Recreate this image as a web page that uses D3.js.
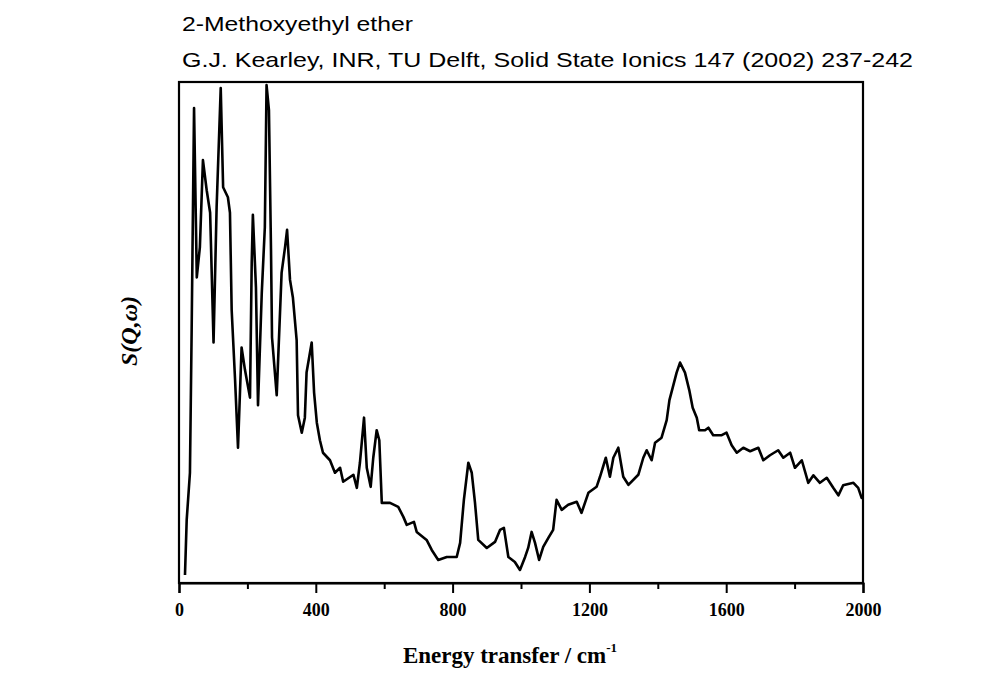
<!DOCTYPE html>
<html>
<head>
<meta charset="utf-8">
<script src="https://cdn.jsdelivr.net/npm/d3@7"></script>
<style>
  body { margin: 0; background: #fff; }
  svg { display: block; }
</style>
</head>
<body>
<svg width="1003" height="700"></svg>
<script>
/* data: energy in cm-1, intensity in arbitrary units (0..100) */

var titleLines = ["2-Methoxyethyl ether",
	"G.J. Kearley, INR, TU Delft, Solid State Ionics 147 (2002) 237-242"];

var energy = [17.5, 22.5, 32, 37, 44, 52, 61, 70, 81, 91, 98.5, 101, 110, 122, 129, 143, 149, 154, 164, 172.5,
	183, 193, 207.6, 212.6, 216, 225, 231, 242, 251, 256, 263, 269, 272, 285.7, 300, 310, 316, 324.6, 333, 344,
	348, 359, 368, 373, 388, 395, 403, 412, 421, 441.5, 456, 471, 480, 510, 520, 529, 541, 549, 560.5, 568,
	578, 585.7, 593, 617, 641, 656, 666, 687, 695, 724, 739, 758, 783, 812, 822, 833, 846, 856, 865.5, 875,
	900, 924, 938.6, 950, 963, 982, 997, 1012, 1021, 1031, 1041, 1053, 1065, 1080, 1094, 1104, 1119, 1138, 1163, 1177,
	1197, 1221, 1231, 1248, 1260, 1270, 1284.5, 1299, 1314, 1343, 1357.6, 1367.5, 1382, 1392, 1411, 1426, 1434, 1443.6, 1455, 1465,
	1479.5, 1492, 1502, 1514, 1521, 1538, 1548, 1562, 1587, 1601, 1616, 1631, 1650, 1670, 1694, 1708.5, 1728, 1752, 1767, 1787,
	1801, 1821, 1840, 1855, 1874, 1894, 1913, 1928, 1942, 1972, 1986, 1996, 2000];

var intensity = [1.6, 12.6, 22, 50.5, 94.8, 61, 67, 84.4, 78.4, 73.9, 54.5, 48, 75, 98.8, 79, 77, 73.9, 54.5, 40.5, 27,
	47, 42.5, 37, 63.9, 73.5, 59, 35.5, 57.9, 71, 99.4, 94.4, 66.5, 49, 37.5, 61.9, 67, 70.5, 60.5, 57, 48.5,
	33.5, 30, 33, 42, 48, 38, 32, 28.5, 26, 24.5, 22, 23, 20.2, 21.6, 19, 24, 33, 23, 19.2, 25,
	30.5, 28.5, 16, 16, 15.2, 13.2, 11.6, 12.2, 10.2, 8.6, 6.6, 4.6, 5.2, 5.2, 8, 16.6, 24, 22, 16, 8.6,
	7, 8.2, 10.6, 11, 5.2, 4.2, 2.6, 5.2, 7, 10.2, 8, 4.6, 7.2, 9, 10.6, 16.6, 14.6, 15.6, 16.2, 14,
	18, 19.2, 21.2, 25, 21.2, 25, 27, 21.2, 19.6, 21.6, 25, 26.5, 24.5, 28, 29, 32.5, 36.5, 39, 42, 44,
	42, 38.5, 35, 33, 30.5, 30.5, 31, 29.5, 29.5, 30, 27.5, 26, 27, 26.3, 27, 24.5, 25.5, 26.5, 25, 26,
	23, 24.5, 20, 21.5, 20, 21, 19, 17.5, 19.5, 20, 19, 17, 17];

var xTicks = [0, 400, 800, 1200, 1600, 2000];
var xMinorTicks = [200, 600, 1000, 1400, 1800];

var svg = d3.select("svg"),
    margin = {top: 82, right: 140, bottom: 117, left: 179},
    w = +svg.attr("width") - margin.left - margin.right,
    h = +svg.attr("height") - margin.top - margin.bottom;

var xScale = d3.scaleLinear()
	.domain([0, 2000])
	.range([margin.left, margin.left + w]);

var yScale = d3.scaleLinear()
	.domain([0, 100])
	.range([margin.top + h, margin.top]);

// title lines
svg.selectAll("text.title")
	.data(titleLines)
	.enter().append("text")
	.attr("class", "title")
	.attr("x", 182)
	.attr("y", function(d, i) { return 31 + i * 36; })
	.attr("font-family", "Liberation Sans, Arial, sans-serif")
	.attr("font-size", 21)
	.attr("textLength", function(d, i) { return i ? 731 : 231; })
	.attr("lengthAdjust", "spacingAndGlyphs")
	.text(function(d) { return d; });

// the spectrum
var points = energy.map(function(e, i) { return [e, intensity[i]]; });

var lineFunction = d3.line()
	.x(function(d) { return xScale(d[0]); })
	.y(function(d) { return yScale(d[1]); });

svg.append("path")
	.attr("d", lineFunction(points))
	.attr("stroke", "#000")
	.attr("stroke-width", 2.6)
	.attr("stroke-linejoin", "round")
	.attr("fill", "none");

// frame
svg.append("rect")
	.attr("x", margin.left)
	.attr("y", margin.top)
	.attr("width", w)
	.attr("height", h)
	.attr("fill", "none")
	.attr("stroke", "#000")
	.attr("stroke-width", 2.2);

// x axis, major and minor ticks
var xAxis = svg.append("g")
	.attr("transform", "translate(0," + (margin.top + h) + ")")
	.call(d3.axisBottom(xScale).tickValues(xTicks).tickSize(10).tickPadding(10).tickFormat(d3.format("d")));

svg.append("g")
	.attr("transform", "translate(0," + (margin.top + h) + ")")
	.call(d3.axisBottom(xScale).tickValues(xMinorTicks).tickSize(6).tickFormat(""))
	.call(function(g) { g.select(".domain").remove(); });

svg.selectAll(".domain").attr("stroke-width", 2.2);
svg.selectAll(".tick line").attr("stroke", "#000").attr("stroke-width", 2);

xAxis.selectAll("text")
	.attr("font-family", "Liberation Serif, Times New Roman, serif")
	.attr("font-weight", "bold")
	.attr("font-size", 18)
	.attr("fill", "#000");

// axis titles
var xTitle = svg.append("text")
	.attr("x", 510)
	.attr("y", 663)
	.attr("text-anchor", "middle")
	.attr("font-family", "Liberation Serif, Times New Roman, serif")
	.attr("font-weight", "bold")
	.attr("font-size", 23);
xTitle.append("tspan").text("Energy transfer / cm");
xTitle.append("tspan").attr("dy", -11).attr("font-size", 13).text("-1");

svg.append("text")
	.attr("transform", "translate(137,331) rotate(-90)")
	.attr("text-anchor", "middle")
	.attr("font-family", "Liberation Serif, Times New Roman, serif")
	.attr("font-weight", "bold")
	.attr("font-style", "italic")
	.attr("font-size", 24)
	.text("S(Q,\u03C9)");
</script>
</body>
</html>
